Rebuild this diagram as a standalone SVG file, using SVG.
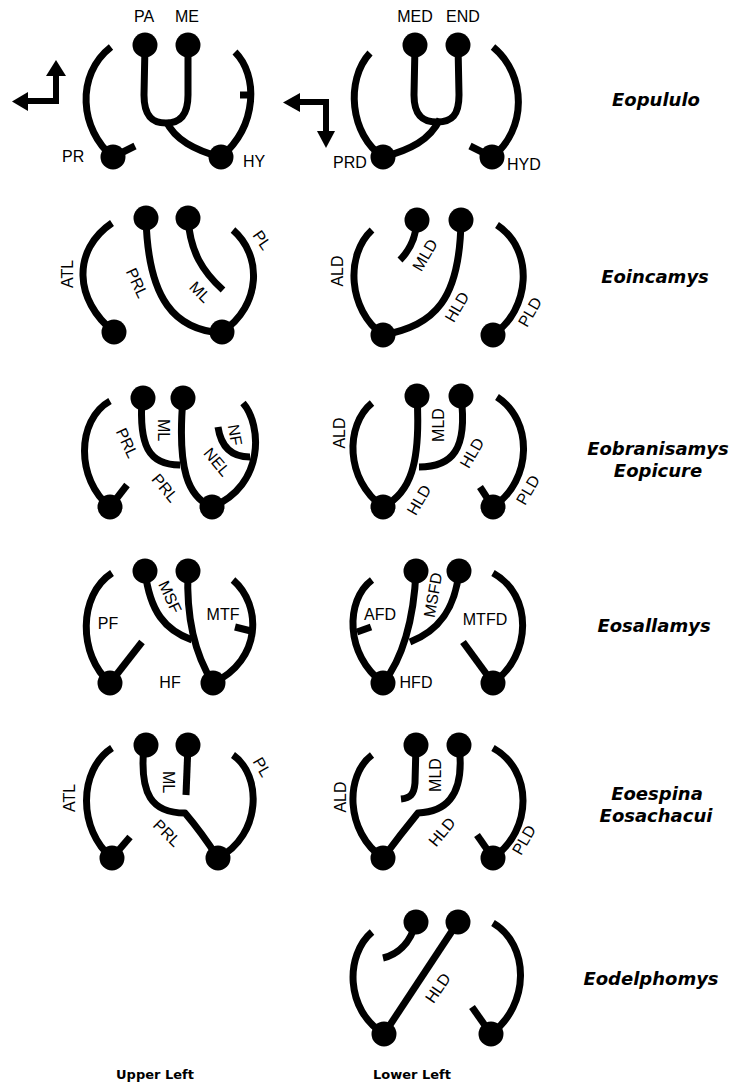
<svg xmlns="http://www.w3.org/2000/svg" width="739" height="1084" viewBox="0 0 739 1084">
  <style>
    .ln { fill: none; stroke: #000; stroke-width: 7; stroke-linecap: butt; stroke-linejoin: round; }
    .ar { fill: none; stroke: #000; stroke-width: 6; stroke-linejoin: miter; }
    .hd { fill: #000; }
    .dot { fill: #000; }
    .lb { font-family: "Liberation Sans", Arial, sans-serif; font-size: 16px; fill: #000; }
    .rl { font-family: "Liberation Sans", Arial, sans-serif; font-size: 16px; fill: #000; text-anchor: middle; dominant-baseline: central; }
    .sp { font-family: "DejaVu Sans", sans-serif; font-size: 18px; font-weight: bold; font-style: oblique; text-anchor: middle; fill: #000; }
    .ft { font-family: "DejaVu Sans", sans-serif; font-size: 13px; font-weight: bold; text-anchor: middle; fill: #000; }
  </style>
  <defs>
    <circle id="d" r="12.5" class="dot"/>
  </defs>
  <rect width="739" height="1084" fill="#fff"/>

  <!-- orientation arrows -->
  <g id="orient-upper">
    <path class="ar" d="M56,74 L56,101 L26,101"/>
    <path class="hd" d="M46,76 L56,60 L66,76 Z"/>
    <path class="hd" d="M28,92 L12,101.5 L28,111 Z"/>
  </g>
  <g id="orient-lower">
    <path class="ar" d="M299,102 L326,102 L326,132"/>
    <path class="hd" d="M300,93 L283,102.5 L300,112 Z"/>
    <path class="hd" d="M317,131 L326,148 L335,131 Z"/>
  </g>

  <!-- Eopululo -->
  <g id="eopululo-upper">
    <g class="connectors">
      <path class="ln" d="M111,47 C75,75 80,130 113,157"/>
      <path class="ln" d="M113,157 L135,146"/>
      <path class="ln" d="M145,45 L144,95 C144,118 154,123 166,123 C180,123 188,115 188,95 L188,45"/>
      <path class="ln" d="M166,121 C175,140 195,150 220,157"/>
      <path class="ln" d="M235,52 C258,75 258,125 221,157"/>
      <path class="ln" d="M240,95 L250,95"/>
    </g>
    <use href="#d" x="145" y="45"/><use href="#d" x="188" y="45"/>
    <use href="#d" x="113" y="157"/><use href="#d" x="221" y="157"/>
    <text class="lb" x="144" y="22" text-anchor="middle">PA</text>
    <text class="lb" x="187" y="22" text-anchor="middle">ME</text>
    <text class="lb" x="62" y="162">PR</text>
    <text class="lb" x="243" y="167">HY</text>
  </g>
  <g id="eopululo-lower">
    <g class="connectors">
      <path class="ln" d="M370,53 C345,80 350,135 383,157"/>
      <path class="ln" d="M415,45 L414,95 C414,118 425,122 437,122 C452,122 459,115 459,95 L458,45"/>
      <path class="ln" d="M440,119 C430,140 410,150 383,157"/>
      <path class="ln" d="M493,47 C527,75 527,130 492,157"/>
      <path class="ln" d="M492,157 L470,146"/>
    </g>
    <use href="#d" x="415" y="45"/><use href="#d" x="458" y="45"/>
    <use href="#d" x="383" y="157"/><use href="#d" x="492" y="157"/>
    <text class="lb" x="415" y="22" text-anchor="middle">MED</text>
    <text class="lb" x="463" y="22" text-anchor="middle">END</text>
    <text class="lb" x="333" y="168">PRD</text>
    <text class="lb" x="507" y="170">HYD</text>
  </g>

  <!-- Eoincamys -->
  <g id="eoincamys-upper">
    <g class="connectors">
      <path class="ln" d="M112,223 C72,250 74,300 114,332"/>
      <path class="ln" d="M146,218 C148,300 175,330 222,333"/>
      <path class="ln" d="M188,218 C190,252 203,272 223,290"/>
      <path class="ln" d="M233,230 C262,255 262,305 222,332"/>
    </g>
    <use href="#d" x="146" y="218"/><use href="#d" x="188" y="218"/>
    <use href="#d" x="114" y="332"/><use href="#d" x="222" y="332"/>
    <text class="rl" transform="translate(67,274) rotate(-90)">ATL</text>
    <text class="rl" transform="translate(137,283) rotate(65)">PRL</text>
    <text class="rl" transform="translate(200,292) rotate(45)">ML</text>
    <text class="rl" transform="translate(262,240) rotate(55)">PL</text>
  </g>
  <g id="eoincamys-lower">
    <g class="connectors">
      <path class="ln" d="M372,230 C345,255 348,310 383,335"/>
      <path class="ln" d="M417,220 C416,238 410,250 400,260"/>
      <path class="ln" d="M461,220 C460,300 435,325 383,335"/>
      <path class="ln" d="M497,225 C535,250 530,310 493,335"/>
    </g>
    <use href="#d" x="417" y="220"/><use href="#d" x="461" y="220"/>
    <use href="#d" x="383" y="335"/><use href="#d" x="493" y="335"/>
    <text class="rl" transform="translate(337,271) rotate(-90)">ALD</text>
    <text class="rl" transform="translate(425,255) rotate(-60)">MLD</text>
    <text class="rl" transform="translate(457,307) rotate(-60)">HLD</text>
    <text class="rl" transform="translate(530,312) rotate(-60)">PLD</text>
  </g>

  <!-- Eobranisamys / Eopicure -->
  <g id="eobranisamys-upper">
    <g class="connectors">
      <path class="ln" d="M110,401 C76,420 76,480 110,507"/>
      <path class="ln" d="M110,507 L127,485"/>
      <path class="ln" d="M142,398 C139,445 148,465 180,465"/>
      <path class="ln" d="M183,398 C177,470 188,497 212,507"/>
      <path class="ln" d="M243,403 C262,425 265,485 212,507"/>
      <path class="ln" d="M218,427 C221,447 232,457 250,457"/>
    </g>
    <use href="#d" x="143" y="398"/><use href="#d" x="183" y="398"/>
    <use href="#d" x="110" y="507"/><use href="#d" x="212" y="507"/>
    <text class="rl" transform="translate(127,443) rotate(65)">PRL</text>
    <text class="rl" transform="translate(163,430) rotate(90)">ML</text>
    <text class="rl" transform="translate(235,435) rotate(80)">NF</text>
    <text class="rl" transform="translate(217,462) rotate(50)">NEL</text>
    <text class="rl" transform="translate(165,488) rotate(50)">PRL</text>
  </g>
  <g id="eobranisamys-lower">
    <g class="connectors">
      <path class="ln" d="M372,403 C345,425 345,480 383,507"/>
      <path class="ln" d="M417,396 C421,465 410,493 383,507"/>
      <path class="ln" d="M461,396 C468,450 452,467 419,467"/>
      <path class="ln" d="M497,397 C533,420 533,480 493,507"/>
      <path class="ln" d="M493,507 L480,487"/>
    </g>
    <use href="#d" x="417" y="396"/><use href="#d" x="461" y="396"/>
    <use href="#d" x="383" y="507"/><use href="#d" x="493" y="507"/>
    <text class="rl" transform="translate(339,433) rotate(-90)">ALD</text>
    <text class="rl" transform="translate(438,425) rotate(-90)">MLD</text>
    <text class="rl" transform="translate(472,453) rotate(-60)">HLD</text>
    <text class="rl" transform="translate(419,500) rotate(-60)">HLD</text>
    <text class="rl" transform="translate(528,490) rotate(-60)">PLD</text>
  </g>

  <!-- Eosallamys -->
  <g id="eosallamys-upper">
    <g class="connectors">
      <path class="ln" d="M112,573 C78,595 78,655 110,683"/>
      <path class="ln" d="M110,683 L142,642"/>
      <path class="ln" d="M145,571 C150,612 165,630 192,640"/>
      <path class="ln" d="M188,571 C186,620 195,655 213,683"/>
      <path class="ln" d="M233,580 C262,605 262,660 213,683"/>
      <path class="ln" d="M235,627 L251,631"/>
    </g>
    <use href="#d" x="145" y="571"/><use href="#d" x="188" y="571"/>
    <use href="#d" x="110" y="683"/><use href="#d" x="213" y="683"/>
    <text class="lb" x="108" y="629" text-anchor="middle">PF</text>
    <text class="rl" transform="translate(170,597) rotate(65)">MSF</text>
    <text class="lb" x="223" y="620" text-anchor="middle">MTF</text>
    <text class="lb" x="170" y="688" text-anchor="middle">HF</text>
  </g>
  <g id="eosallamys-lower">
    <g class="connectors">
      <path class="ln" d="M372,580 C345,600 345,655 383,683"/>
      <path class="ln" d="M357,632 L371,627"/>
      <path class="ln" d="M416,571 C414,620 402,660 383,683"/>
      <path class="ln" d="M459,571 C455,612 436,632 410,642"/>
      <path class="ln" d="M493,573 C533,595 532,655 493,683"/>
      <path class="ln" d="M493,683 L463,642"/>
    </g>
    <use href="#d" x="416" y="571"/><use href="#d" x="459" y="571"/>
    <use href="#d" x="383" y="683"/><use href="#d" x="493" y="683"/>
    <text class="lb" x="380" y="620" text-anchor="middle">AFD</text>
    <text class="rl" transform="translate(433,595) rotate(-80)">MSFD</text>
    <text class="lb" x="485" y="625" text-anchor="middle">MTFD</text>
    <text class="lb" x="416" y="688" text-anchor="middle">HFD</text>
  </g>

  <!-- Eoespina / Eosachacui -->
  <g id="eoespina-upper">
    <g class="connectors">
      <path class="ln" d="M112,748 C78,770 78,830 112,858"/>
      <path class="ln" d="M112,858 L130,837"/>
      <path class="ln" d="M188,745 L186,795"/>
      <path class="ln" d="M144,745 C139,795 152,813 185,813 Q202,833 218,858"/>
      <path class="ln" d="M233,755 C262,775 262,835 218,858"/>
    </g>
    <use href="#d" x="146" y="745"/><use href="#d" x="188" y="745"/>
    <use href="#d" x="112" y="858"/><use href="#d" x="218" y="858"/>
    <text class="rl" transform="translate(69,798) rotate(-90)">ATL</text>
    <text class="rl" transform="translate(168,782) rotate(90)">ML</text>
    <text class="rl" transform="translate(167,833) rotate(45)">PRL</text>
    <text class="rl" transform="translate(262,767) rotate(60)">PL</text>
  </g>
  <g id="eoespina-lower">
    <g class="connectors">
      <path class="ln" d="M372,755 C345,775 345,832 383,858"/>
      <path class="ln" d="M416,745 L415,783 C414,795 410,798 401,799"/>
      <path class="ln" d="M459,745 C466,800 442,812 418,813 Q400,835 383,858"/>
      <path class="ln" d="M493,748 C533,770 533,830 493,858"/>
      <path class="ln" d="M493,858 L477,835"/>
    </g>
    <use href="#d" x="416" y="745"/><use href="#d" x="459" y="745"/>
    <use href="#d" x="383" y="858"/><use href="#d" x="493" y="858"/>
    <text class="rl" transform="translate(340,797) rotate(-90)">ALD</text>
    <text class="rl" transform="translate(435,775) rotate(-90)">MLD</text>
    <text class="rl" transform="translate(442,832) rotate(-50)">HLD</text>
    <text class="rl" transform="translate(524,840) rotate(-60)">PLD</text>
  </g>

  <!-- Eodelphomys -->
  <g id="eodelphomys-lower">
    <g class="connectors">
      <path class="ln" d="M372,932 C345,955 345,1010 384,1034"/>
      <path class="ln" d="M416,922 C410,945 396,955 383,958"/>
      <path class="ln" d="M458,922 L384,1034"/>
      <path class="ln" d="M493,923 C530,945 530,1005 491,1034"/>
      <path class="ln" d="M491,1034 L472,1007"/>
    </g>
    <use href="#d" x="416" y="922"/><use href="#d" x="458" y="922"/>
    <use href="#d" x="384" y="1034"/><use href="#d" x="491" y="1034"/>
    <text class="rl" transform="translate(438,988) rotate(-56)">HLD</text>
  </g>

  <!-- taxon names -->
  <g id="taxa">
    <text class="sp" x="656" y="106">Eopululo</text>
    <text class="sp" x="655" y="283">Eoincamys</text>
    <text class="sp" x="658" y="455">Eobranisamys</text>
    <text class="sp" x="658" y="477">Eopicure</text>
    <text class="sp" x="654" y="632">Eosallamys</text>
    <text class="sp" x="657" y="800">Eoespina</text>
    <text class="sp" x="656" y="822">Eosachacui</text>
    <text class="sp" x="651" y="985">Eodelphomys</text>
  </g>

  <!-- column captions -->
  <g id="captions">
    <text class="ft" x="155" y="1079">Upper Left</text>
    <text class="ft" x="412" y="1079">Lower Left</text>
  </g>
</svg>
